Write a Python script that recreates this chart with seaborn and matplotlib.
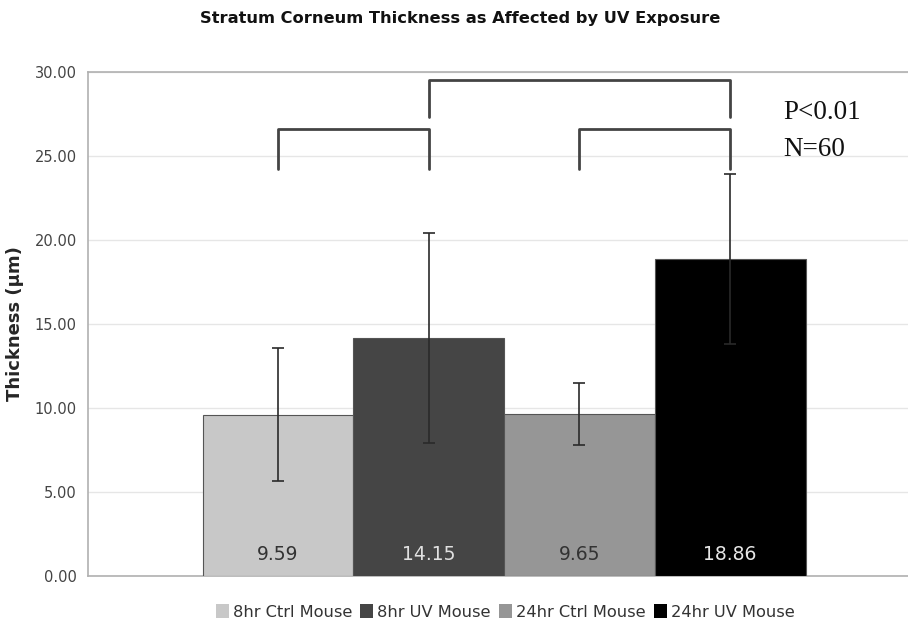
import matplotlib
matplotlib.use("Agg")
import matplotlib.pyplot as plt
import seaborn as sns
import pandas as pd

# ─── DATA ────────────────────────────────────────────────────
groups    = ["8hr Ctrl Mouse", "8hr UV Mouse", "24hr Ctrl Mouse", "24hr UV Mouse"]
thickness = [9.59, 14.15, 9.65, 18.86]
errors    = [3.96, 6.24, 1.85, 5.05]
colors    = ["#c8c8c8", "#454545", "#969696", "#000000"]
label_colors = ["#333333", "#e0e0e0", "#333333", "#e6e6e6"]
yticks    = [0, 5, 10, 15, 20, 25, 30]

df = pd.DataFrame({"cat": [""] * 4, "group": groups, "thickness": thickness})

sns.set_style("white")
plt.rcParams["font.family"] = ["DejaVu Sans"]

fig = plt.figure(figsize=(9.08, 6.22), dpi=100)
ax = fig.add_axes([88 / 908, 46 / 622, 820 / 908, 504 / 622])

sns.barplot(data=df, x="cat", y="thickness", hue="group", hue_order=groups,
            palette=colors, width=0.8, errorbar=None, edgecolor="#555555",
            linewidth=0.8, ax=ax, zorder=3)

ax.set_xlim(-0.552, 0.536)
ax.set_ylim(0, 30)
ax.set_yticks(yticks)
ax.set_yticklabels([f"{t:.2f}" for t in yticks], fontsize=10.5, color="#444444")
ax.set_xticks([])
ax.set_xlabel("")
ax.set_ylabel("Thickness (\u03bcm)", fontsize=13, fontweight="bold", labelpad=8)
ax.grid(axis="y", color="#e6e6e6", linewidth=1, zorder=0)
ax.tick_params(axis="y", length=4, color="#aaaaaa", pad=4)

for side in ["left", "bottom", "top"]:
    ax.spines[side].set_color("#b0b0b0")
    ax.spines[side].set_linewidth(1.2)
ax.spines["right"].set_visible(False)

# bar centres from the drawn patches
bars = [p for p in ax.patches if p.get_height() > 0][:4]
centres = [b.get_x() + b.get_width() / 2 for b in bars]

# ─── ERROR BARS & LABELS ─────────────────────────────────────
for xc, val, err, lc in zip(centres, thickness, errors, label_colors):
    ax.errorbar(xc, val, yerr=err, fmt="none", ecolor="#2a2a2a",
                elinewidth=1.2, capsize=4, capthick=1.2, zorder=4)
    ax.text(xc, 1.25, f"{val:.2f}", ha="center", va="center",
            fontsize=13.5, color=lc, zorder=5)

# ─── SIGNIFICANCE BRACKETS ───────────────────────────────────
def bracket(x1, x2, top, bottom):
    ax.plot([x1, x1, x2, x2], [bottom, top, top, bottom],
            color="#444444", linewidth=2, zorder=5, clip_on=False)

bracket(centres[1], centres[3], 29.5, 27.3)
bracket(centres[0], centres[1], 26.6, 24.2)
bracket(centres[2], centres[3], 26.6, 24.2)

ax.text(0.37, 27.6, "P<0.01", fontsize=19.5, family="Liberation Serif",
        va="center", ha="left", color="#111111")
ax.text(0.37, 25.4, "N=60", fontsize=19.5, family="Liberation Serif",
        va="center", ha="left", color="#111111")

# ─── TITLE & LEGEND ──────────────────────────────────────────
fig.text(460 / 908, 1 - 18 / 622, "Stratum Corneum Thickness as Affected by UV Exposure",
         ha="center", va="center", fontsize=11.7, fontweight="bold", color="#111111")

ax.legend(loc="center", bbox_to_anchor=(505 / 908, 10 / 622),
          bbox_transform=fig.transFigure, ncol=4, frameon=False,
          fontsize=11.7, handlelength=0.8, handleheight=0.9,
          handletextpad=0.25, columnspacing=0.5,
          labelcolor="#333333")
for h in ax.get_legend().legend_handles:
    h.set_edgecolor("none")

fig.savefig("out.png", dpi=100)
